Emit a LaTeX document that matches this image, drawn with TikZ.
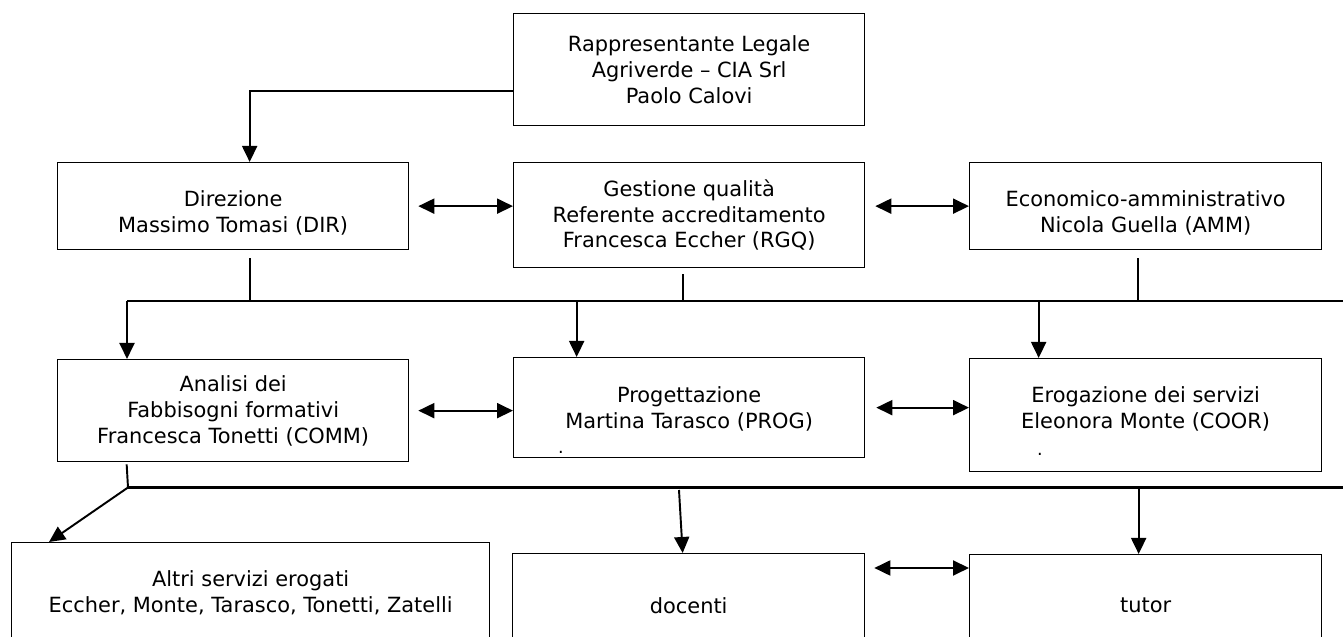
\documentclass[tikz,border=0pt]{standalone}
\usepackage{fontspec}
\setmainfont{DejaVu Sans}
\usepackage{tikz}
\usetikzlibrary{arrows.meta}

% lowers (or raises) a block of centred lines inside its box
\newcommand{\lowtext}[2]{\raisebox{#1}[\height][\depth]{\begin{tabular}{@{}c@{}}#2\end{tabular}}}

\begin{document}
\begin{tikzpicture}[
      desc/.style={
        rectangle,
        draw=black,
        line width=0.75pt,
        align=center,
        anchor=north west,
        minimum width=70.2mm,
        font=\fontsize{11.9}{14.7}\selectfont
      },
      conn/.style={
        line width=1.1pt,
        -{Triangle[length=3.2mm,width=3mm]}
      },
      dbl/.style={
        line width=1.1pt,
        {Triangle[length=3.2mm,width=3mm]}-{Triangle[length=3.2mm,width=3mm]}
      },
      stub/.style={line width=1.1pt},
      bus/.style={line width=1.3pt}
    ]

    \useasboundingbox (0,0) rectangle (26.86,12.74);
    \clip (0,0) rectangle (26.86,12.74);

    % first row
    \node [desc, minimum height=22.4mm] (RappLeg) at (10.26,12.48) {Rappresentante Legale\\Agriverde -- CIA Srl\\Paolo Calovi};
    \node [desc, minimum height=17.4mm] (Dir) at (1.14,9.50) {\lowtext{-4.8pt}{Direzione\\Massimo Tomasi (DIR)}};
    \node [desc, minimum height=21mm] (RGQ) at (10.26,9.50) {Gestione qualità\\Referente accreditamento\\Francesca Eccher (RGQ)};
    \node [desc, minimum height=17.4mm, minimum width=70.4mm] (AMM) at (19.38,9.50) {\lowtext{-4.8pt}{Economico-amministrativo\\Nicola Guella (AMM)}};

    % second row
    \node [desc, minimum height=20.4mm] (COMM) at (1.14,5.56) {Analisi dei\\Fabbisogni formativi\\Francesca Tonetti (COMM)};
    \node [desc, minimum height=20mm] (PROG) at (10.26,5.60) {\lowtext{-1.7pt}{Progettazione\\Martina Tarasco (PROG)}};
    \node [desc, minimum height=22.6mm, minimum width=70.4mm] (COOR) at (19.38,5.58) {\lowtext{2.6pt}{Erogazione dei servizi\\Eleonora Monte (COOR)}};
    \node [anchor=base, inner sep=0pt] (ProgDot) at (11.22,3.66) {.};
    \node [anchor=base, inner sep=0pt] (CoorDot) at (20.80,3.62) {.};

    % third row
    \node [desc, minimum height=20.2mm, minimum width=95.6mm] (Altri) at (0.22,1.90) {Altri servizi erogati\\Eccher, Monte, Tarasco, Tonetti, Zatelli};
    \node [desc, minimum height=20.8mm, minimum width=70.4mm] (Docenti) at (10.24,1.68) {docenti};
    \node [desc, minimum height=20.4mm, minimum width=70.4mm] (Tutor) at (19.38,1.66) {tutor};

    \coordinate (BusA) at (2.54,6.72);
    \coordinate (BusAend) at (26.86,6.72);
    \coordinate (BusB) at (2.56,2.99);
    \coordinate (BusBend) at (26.86,2.99);
    \coordinate (DocIn) at (13.58,2.94);
    \coordinate (DocTut) at ([yshift=-3mm]Docenti.north east);

    \draw [conn] ([yshift=-4.2mm]RappLeg.west) -| ([xshift=3.3mm]Dir.north);
    \draw [dbl] ([xshift=1.8mm]Dir.east) -- (Dir.east -| RGQ.west);
    \draw [dbl] ([xshift=2mm]RGQ.east |- AMM.west) -- (AMM.west);

    \draw [stub] ([shift={(3.3mm,-1.6mm)}]Dir.south) -- ([xshift=3.3mm]Dir.south |- BusA);
    \draw [stub] ([shift={(-1.3mm,-1.2mm)}]RGQ.south) -- ([xshift=-1.3mm]RGQ.south |- BusA);
    \draw [stub] ([shift={(-1.6mm,-1.6mm)}]AMM.south) -- ([xshift=-1.6mm]AMM.south |- BusA);
    \draw [bus] (BusA) -- (BusAend);

    \draw [conn] (BusA) -- (BusA |- COMM.north);
    \draw [conn] ([xshift=-22.5mm]PROG.north |- BusA) -- ([xshift=-22.5mm]PROG.north);
    \draw [conn] ([xshift=-21.4mm]COOR.north |- BusA) -- ([xshift=-21.4mm]COOR.north);

    \draw [dbl] ([xshift=1.8mm]COMM.east) -- (COMM.east -| PROG.west);
    \draw [dbl] ([xshift=2.2mm]PROG.east) -- (PROG.east -| COOR.west);

    \draw [stub] ([shift={(-21.3mm,-0.4mm)}]COMM.south) -- (BusB);
    \draw [bus] (BusB) -- (BusBend);
    \draw [conn] (BusB) -- ([xshift=7.6mm]Altri.north west);
    \draw [conn] (DocIn) -- ([xshift=-1.2mm]Docenti.north);
    \draw [conn] ([xshift=-1.4mm]Tutor.north |- BusB) -- ([xshift=-1.4mm]Tutor.north);
    \draw [dbl] ([xshift=1.8mm]DocTut) -- (DocTut -| Tutor.west);

\end{tikzpicture}
\end{document}
